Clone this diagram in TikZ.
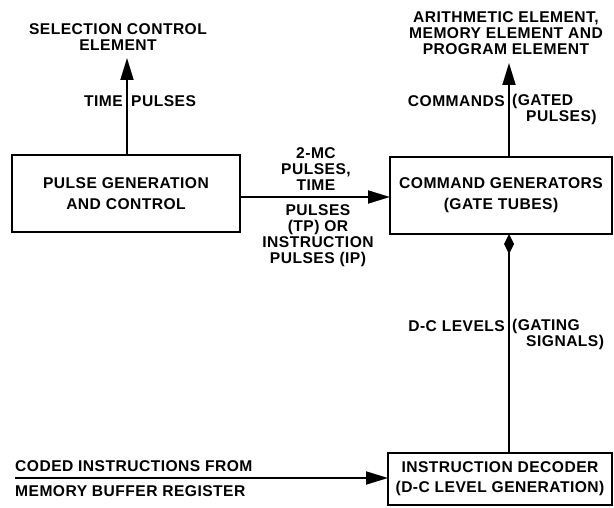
\documentclass[tikz,border=0pt]{standalone}
\usepackage{fontspec}
\setmainfont[LetterSpace=3,BoldFont={Liberation Sans Bold}]{Liberation Sans}
\usetikzlibrary{arrows.meta}
\begin{document}
\begin{tikzpicture}[x=1pt,y=-1pt,
  font=\fontsize{15.6}{16}\selectfont\bfseries,
  blk/.style={draw,line width=2.6pt,rectangle,outer sep=0pt,align=center,inner sep=0pt},
  conn/.style={line width=1.8pt,-{Triangle[length=22pt,width=13pt]}},
  lbl/.style={inner sep=0pt,align=center}]
\useasboundingbox (0,0) rectangle (614,508);
\node[blk,minimum width=228pt,minimum height=77pt,font=\fontsize{15.6}{21}\selectfont\bfseries] (pg) at (126,193.5) {PULSE GENERATION\\AND CONTROL};
\node[blk,minimum width=222pt,minimum height=77pt,font=\fontsize{15.6}{21}\selectfont\bfseries] (cg) at (501,195.5) {COMMAND GENERATORS\\(GATE TUBES)};
\node[blk,minimum width=224pt,minimum height=52pt,font=\fontsize{15.6}{20}\selectfont\bfseries] (dec) at (500,479) {INSTRUCTION DECODER\\(D-C LEVEL GENERATION)};
\node[lbl] (sel) at (118,37) {SELECTION CONTROL\\ELEMENT};
\node[lbl] (ari) at (506,33) {ARITHMETIC ELEMENT,\\MEMORY ELEMENT AND\\PROGRAM ELEMENT};
\coordinate (selb) at (127,58);
\coordinate (arib) at (509,63);
\coordinate (pgt) at (127,155);
\coordinate (cgt) at (509,157);
\draw[conn] (pgt) -- (selb);
\draw[conn] (cgt) -- (arib);
\node[lbl,anchor=east] (tp1) at (123,101) {TIME};
\node[lbl,anchor=west] (tp2) at (131,101) {PULSES};
\node[lbl,anchor=east] (cm1) at (505,101) {COMMANDS};
\node[lbl,anchor=north west,align=left] (cm2) at (512,94) {(GATED\\\hspace*{0.9em}PULSES)};
\coordinate (pgr) at (240,197);
\coordinate (cgl) at (390,197);
\draw[conn] (pgr) -- (cgl);
\node[lbl,anchor=south] (ab) at (316,191) {2-MC\\PULSES,\\TIME};
\node[lbl,anchor=north] (be) at (318,204) {PULSES\\(TP) OR\\INSTRUCTION\\PULSES (IP)};
\coordinate (cgb) at (509,234);
\coordinate (dect) at (509,453);
\draw[line width=1.8pt,{Diamond[length=20pt,width=10pt]}-] (cgb) -- (dect);
\node[lbl,anchor=east] (dc1) at (505,326) {D-C LEVELS};
\node[lbl,anchor=north west,align=left] (dc2) at (512,319) {(GATING\\\hspace*{0.9em}SIGNALS)};
\coordinate (in) at (15,478);
\coordinate (decl) at (388,478);
\draw[conn] (in) -- (decl);
\node[lbl,anchor=south west] (ci1) at (15,472) {CODED INSTRUCTIONS FROM};
\node[lbl,anchor=north west] (ci2) at (15,485) {MEMORY BUFFER REGISTER};
\end{tikzpicture}
\end{document}
